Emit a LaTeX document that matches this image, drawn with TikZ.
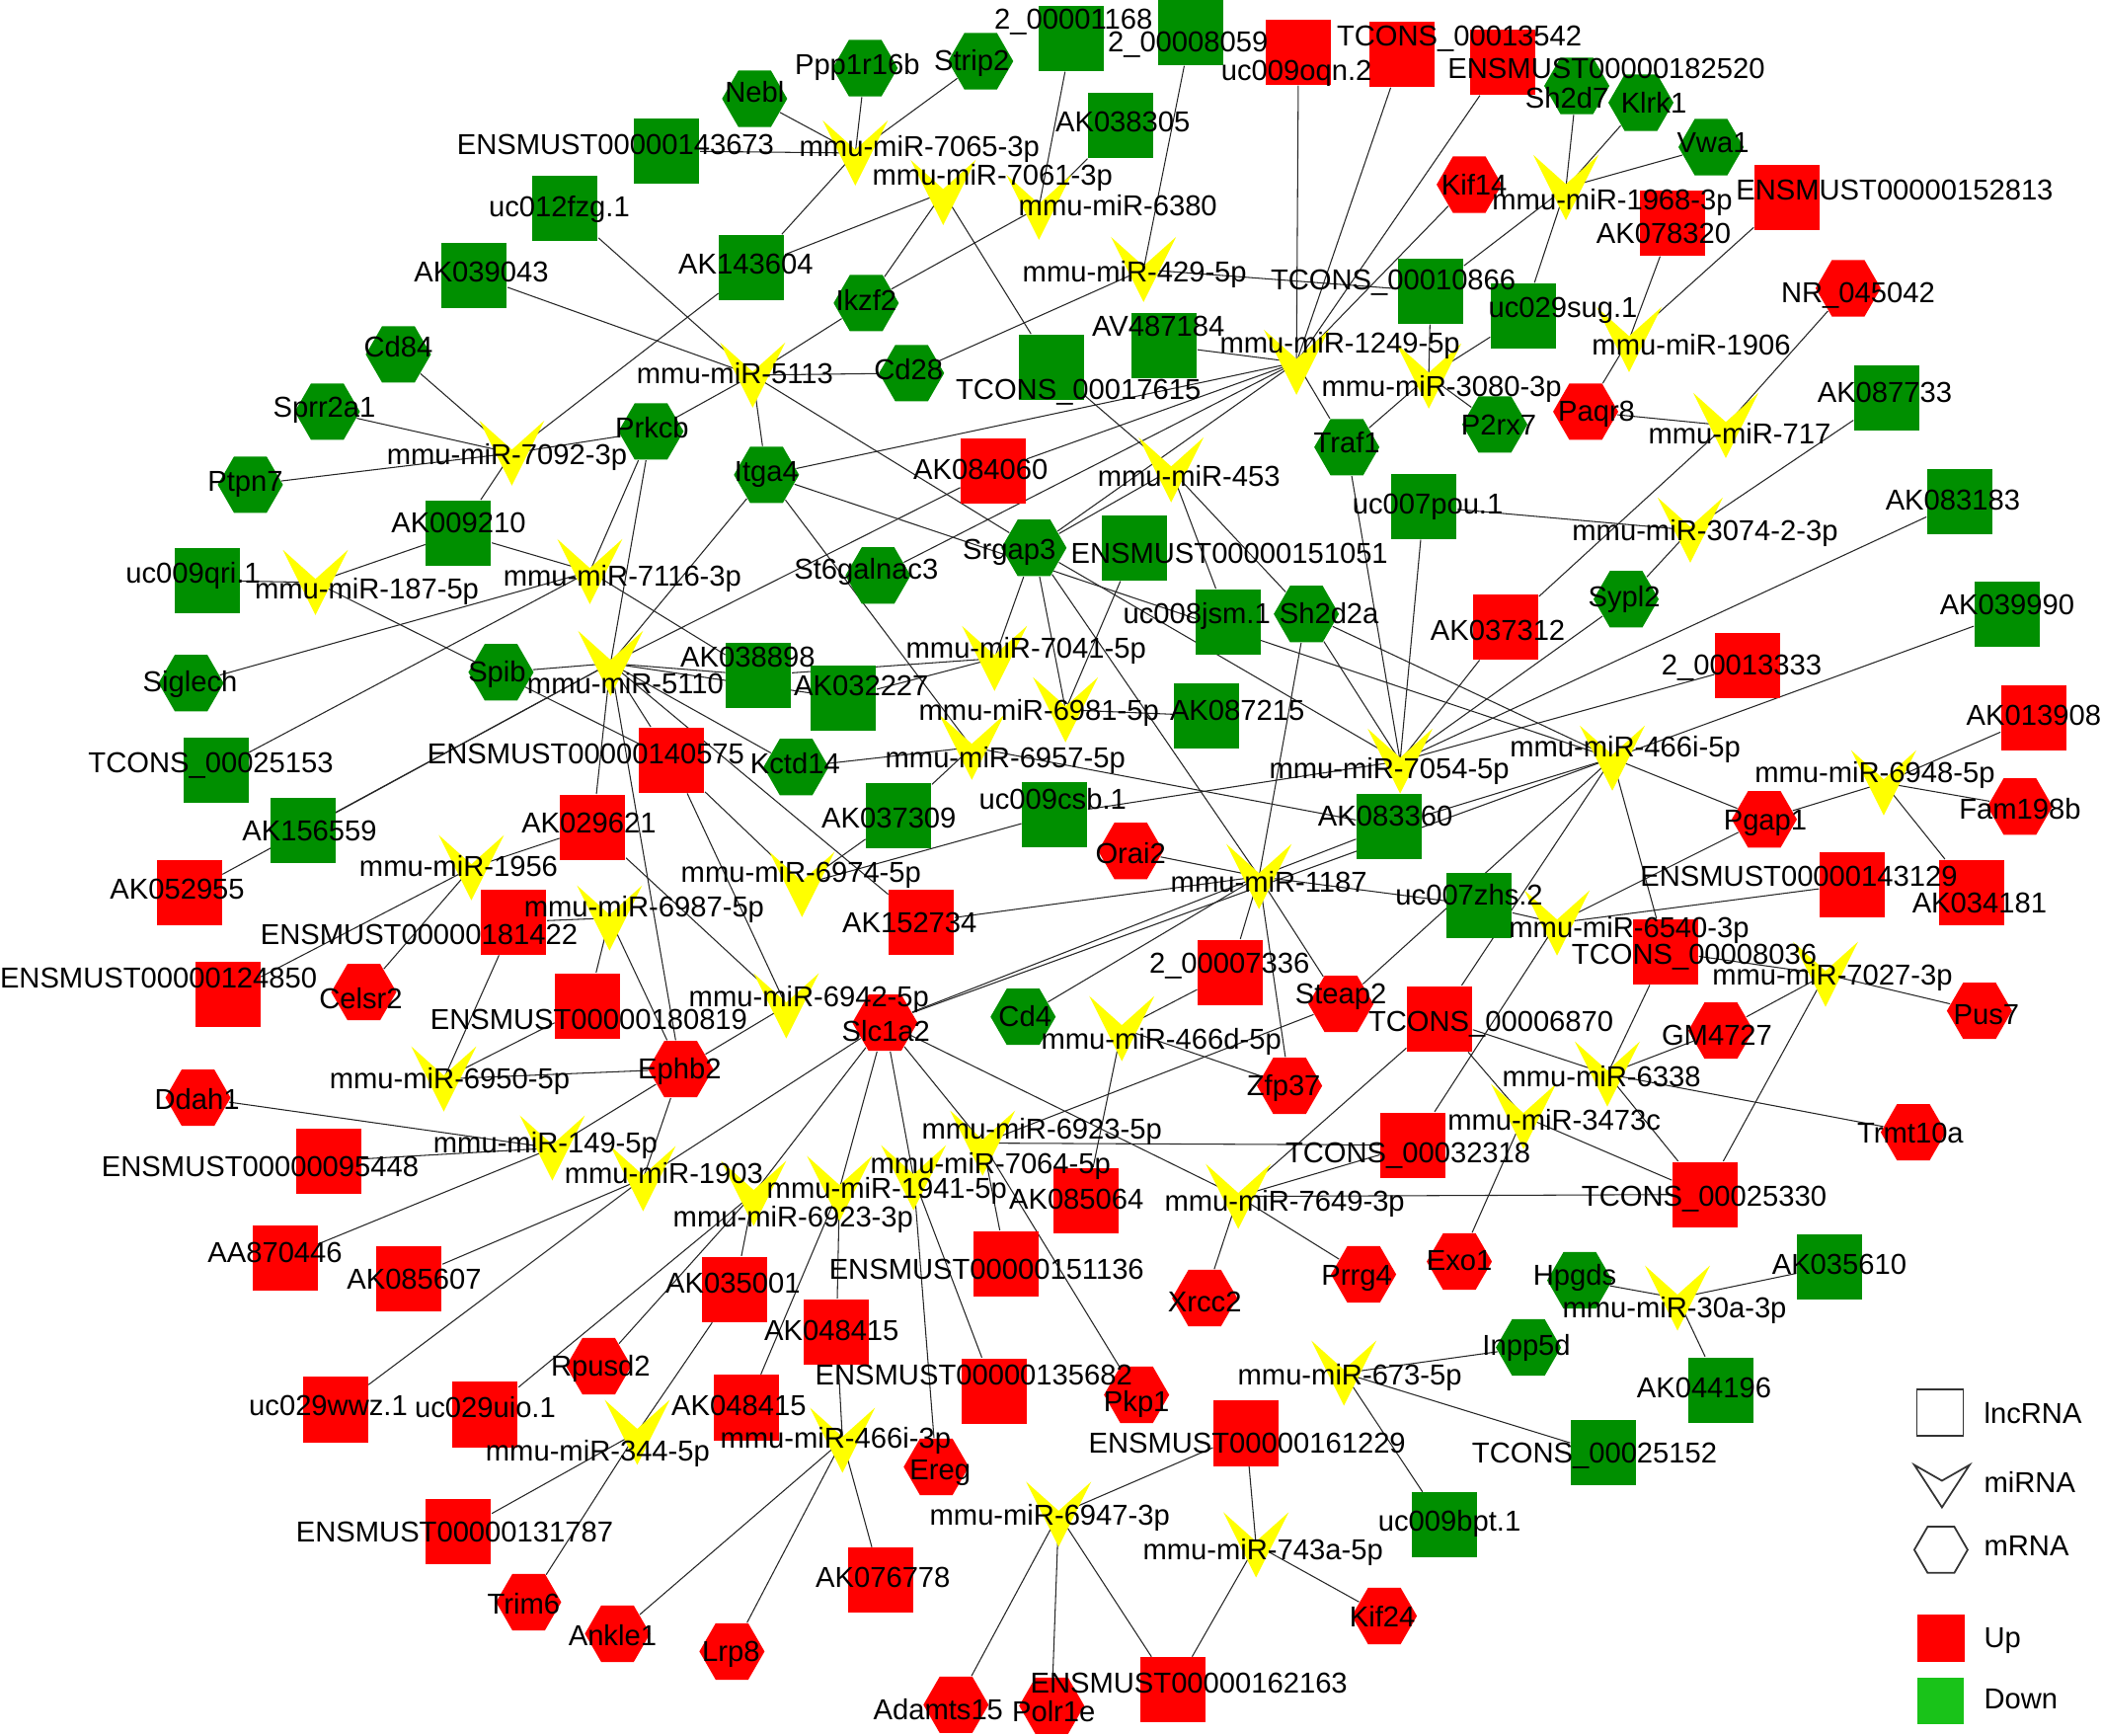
\documentclass[tikz,border=0pt]{standalone}
\usepackage{fontspec}
\setmainfont{Liberation Sans}
\usetikzlibrary{shapes.geometric}
\definecolor{upred}{HTML}{FF0000}
\definecolor{downgreen}{HTML}{008F00}
\definecolor{legendgreen}{HTML}{19C319}
\definecolor{mirfill}{HTML}{FFFF00}
\pgfdeclarelayer{bg}
\pgfdeclarelayer{edges}
\pgfdeclarelayer{labels}
\pgfsetlayers{bg,edges,main,labels}

\tikzset{
  lnc/.style={rectangle, draw=none, minimum size=0.66cm, inner sep=0pt},
  mrna/.style={regular polygon, regular polygon sides=6, draw=none, minimum size=0.66cm, inner sep=0pt},
  lbl/.style={inner sep=0pt, anchor=base, yshift=-0.1cm, font=\fontsize{8.3}{9}\selectfont},
  link/.style={draw=black!85, line width=0.3pt},
  legline/.style={draw=black!80, line width=0.5pt}
}

% lncRNA: name, colour, position, label position, text
\newcommand{\lncnode}[5]{%
  \node[lnc, fill=#2] (#1) at (#3) {};
  \begin{pgfonlayer}{labels}\node[lbl] (#1-t) at (#4) {#5};\end{pgfonlayer}}
% mRNA: name, colour, position, label position, text
\newcommand{\mrnanode}[5]{%
  \node[mrna, fill=#2] (#1) at (#3) {};
  \begin{pgfonlayer}{labels}\node[lbl] (#1-t) at (#4) {#5};\end{pgfonlayer}}
% miRNA: name, position, label position, text
\newcommand{\mirnode}[4]{%
  \coordinate (#1) at (#2);
  \fill[mirfill] (#1) ++(-33,-33) -- ++(33,29.5) -- ++(33,-29.5) -- ++(-33,66) -- cycle;
  \begin{pgfonlayer}{labels}\node[lbl] (#1-t) at (#3) {#4};\end{pgfonlayer}}

\begin{document}
\begin{tikzpicture}[x=0.01cm, y=-0.01cm]
\begin{pgfonlayer}{bg}
\path[use as bounding box, fill=white] (0,0) rectangle (2128,1758);
\end{pgfonlayer}

% lncRNA
\lncnode{e143673}{downgreen}{675,153}{623,147}{ENSMUST00000143673}
\lncnode{uc012fzg}{downgreen}{572,211}{566,210}{uc012fzg.1}
\lncnode{AK039043}{downgreen}{480,279}{487,276}{AK039043}
\lncnode{AK009210}{downgreen}{464,540}{464,530}{AK009210}
\lncnode{uc009qri}{downgreen}{209,588}{195,581}{uc009qri.1}
\lncnode{s1168}{downgreen}{1085,39}{1087,19}{2\_00001168}
\lncnode{s8059}{downgreen}{1206,33}{1203,42}{2\_00008059}
\lncnode{uc009oqn}{upred}{1315,53}{1313,71}{uc009oqn.2}
\lncnode{T13542}{upred}{1420,55}{1478,36}{TCONS\_00013542}
\lncnode{e182520}{upred}{1522,63}{1627,69}{ENSMUST00000182520}
\lncnode{AK038305}{downgreen}{1135,127}{1137,124}{AK038305}
\lncnode{e152813}{upred}{1810,200}{1919,193}{ENSMUST00000152813}
\lncnode{AK078320}{upred}{1694,226}{1685,237}{AK078320}
\lncnode{AK143604}{downgreen}{761,271}{755,268}{AK143604}
\lncnode{T10866}{downgreen}{1449,295}{1411,284}{TCONS\_00010866}
\lncnode{uc029sug}{downgreen}{1543,320}{1583,312}{uc029sug.1}
\lncnode{AV487184}{downgreen}{1179,350}{1173,331}{AV487184}
\lncnode{T17615}{downgreen}{1065,372}{1092,395}{TCONS\_00017615}
\lncnode{AK087733}{downgreen}{1911,403}{1909,398}{AK087733}
\lncnode{AK084060}{upred}{1006,477}{993,476}{AK084060}
\lncnode{uc007pou}{downgreen}{1442,513}{1446,511}{uc007pou.1}
\lncnode{AK083183}{downgreen}{1985,508}{1978,507}{AK083183}
\lncnode{e151051}{downgreen}{1149,555}{1245,561}{ENSMUST00000151051}
\lncnode{uc008jsm}{downgreen}{1244,630}{1212,622}{uc008jsm.1}
\lncnode{AK037312}{upred}{1525,635}{1517,639}{AK037312}
\lncnode{AK039990}{downgreen}{2033,622}{2033,613}{AK039990}
\lncnode{AK038898}{downgreen}{768,684}{757,666}{AK038898}
\lncnode{AK032227}{downgreen}{854,707}{872,695}{AK032227}
\lncnode{s13333}{upred}{1770,674}{1764,674}{2\_00013333}
\lncnode{AK013908}{upred}{2060,727}{2060,725}{AK013908}
\lncnode{AK087215}{downgreen}{1222,725}{1253,720}{AK087215}
\lncnode{T25153}{downgreen}{218,780}{213,773}{TCONS\_00025153}
\lncnode{e140575}{upred}{680,770}{593,764}{ENSMUST00000140575}
\lncnode{AK156559}{downgreen}{306,841}{313,842}{AK156559}
\lncnode{AK029621}{upred}{600,838}{596,834}{AK029621}
\lncnode{AK037309}{downgreen}{910,826}{900,829}{AK037309}
\lncnode{uc009csb}{downgreen}{1068,825}{1066,810}{uc009csb.1}
\lncnode{AK083360}{downgreen}{1407,837}{1403,827}{AK083360}
\lncnode{AK052955}{upred}{191,904}{179,901}{AK052955}
\lncnode{AK152734}{upred}{933,934}{921,935}{AK152734}
\lncnode{uc007zhs}{downgreen}{1498,917}{1488,907}{uc007zhs.2}
\lncnode{e143129}{upred}{1876,896}{1822,888}{ENSMUST00000143129}
\lncnode{AK034181}{upred}{1997,904}{2005,915}{AK034181}
\lncnode{e181422}{upred}{520,934}{424,947}{ENSMUST00000181422}
\lncnode{e124850}{upred}{230,1007}{160,991}{ENSMUST00000124850}
\lncnode{e180819}{upred}{595,1019}{596,1033}{ENSMUST00000180819}
\lncnode{s7336}{upred}{1246,985}{1245,976}{2\_00007336}
\lncnode{T8036}{upred}{1687,964}{1716,967}{TCONS\_00008036}
\lncnode{T6870}{upred}{1458,1032}{1510,1035}{TCONS\_00006870}
\lncnode{e095448}{upred}{332,1176}{263,1182}{ENSMUST00000095448}
\lncnode{T32318}{upred}{1431,1160}{1426,1168}{TCONS\_00032318}
\lncnode{T25330}{upred}{1727,1210}{1726,1212}{TCONS\_00025330}
\lncnode{AK085064}{upred}{1100,1216}{1090,1215}{AK085064}
\lncnode{AA870446}{upred}{288,1274}{278,1269}{AA870446}
\lncnode{AK085607}{upred}{414,1295}{419,1296}{AK085607}
\lncnode{AK035001}{upred}{744,1306}{742,1300}{AK035001}
\lncnode{e151136}{upred}{1019,1280}{999,1286}{ENSMUST00000151136}
\lncnode{AK035610}{downgreen}{1853,1283}{1863,1281}{AK035610}
\lncnode{AK048415a}{upred}{847,1349}{842,1348}{AK048415}
\lncnode{AK048415b}{upred}{756,1426}{748,1424}{AK048415}
\lncnode{e135682}{upred}{1007,1409}{986,1393}{ENSMUST00000135682}
\lncnode{AK044196}{downgreen}{1743,1408}{1726,1406}{AK044196}
\lncnode{uc029wwz}{upred}{339,1428}{332,1424}{uc029wwz.1}
\lncnode{uc029uio}{upred}{491,1433}{491,1426}{uc029uio.1}
\lncnode{e161229}{upred}{1262,1452}{1263,1462}{ENSMUST00000161229}
\lncnode{T25152}{downgreen}{1624,1472}{1615,1472}{TCONS\_00025152}
\lncnode{e131787}{upred}{464,1552}{460,1552}{ENSMUST00000131787}
\lncnode{uc009bpt}{downgreen}{1463,1545}{1468,1541}{uc009bpt.1}
\lncnode{AK076778}{upred}{892,1601}{894,1598}{AK076778}
\lncnode{e162163}{upred}{1188,1712}{1204,1705}{ENSMUST00000162163}

% mRNA
\mrnanode{Nebl}{downgreen}{764,100}{764,94}{Nebl}
\mrnanode{Ppp1r16b}{downgreen}{876,69}{868,65}{Ppp1r16b}
\mrnanode{Strip2}{downgreen}{993,62}{984,61}{Strip2}
\mrnanode{Sh2d7}{downgreen}{1597,87}{1587,100}{Sh2d7}
\mrnanode{Klrk1}{downgreen}{1662,104}{1675,105}{Klrk1}
\mrnanode{Vwa1}{downgreen}{1733,149}{1735,145}{Vwa1}
\mrnanode{Kif14}{upred}{1488,187}{1493,188}{Kif14}
\mrnanode{Ikzf2}{downgreen}{877,307}{877,305}{Ikzf2}
\mrnanode{NR045042}{upred}{1872,292}{1882,297}{NR\_045042}
\mrnanode{Cd84}{downgreen}{403,359}{403,352}{Cd84}
\mrnanode{Cd28}{downgreen}{923,378}{920,375}{Cd28}
\mrnanode{Sprr2a1}{downgreen}{331,417}{328,413}{Sprr2a1}
\mrnanode{Prkcb}{downgreen}{659,437}{660,434}{Prkcb}
\mrnanode{P2rx7}{downgreen}{1514,430}{1518,431}{P2rx7}
\mrnanode{Paqr8}{upred}{1606,417}{1617,417}{Paqr8}
\mrnanode{Ptpn7}{downgreen}{253,491}{248,488}{Ptpn7}
\mrnanode{Itga4}{downgreen}{776,481}{776,478}{Itga4}
\mrnanode{Traf1}{downgreen}{1364,453}{1364,449}{Traf1}
\mrnanode{Srgap3}{downgreen}{1047,555}{1022,557}{Srgap3}
\mrnanode{St6galnac3}{downgreen}{889,583}{877,577}{St6galnac3}
\mrnanode{Sh2d2a}{downgreen}{1323,622}{1346,622}{Sh2d2a}
\mrnanode{Sypl2}{downgreen}{1647,607}{1645,605}{Sypl2}
\mrnanode{Siglech}{downgreen}{193,692}{192,691}{Siglech}
\mrnanode{Spib}{downgreen}{507,681}{503,681}{Spib}
\mrnanode{Kctd14}{downgreen}{806,777}{805,774}{Kctd14}
\mrnanode{Fam198b}{upred}{2046,817}{2046,820}{Fam198b}
\mrnanode{Orai2}{upred}{1145,862}{1145,865}{Orai2}
\mrnanode{Pgap1}{upred}{1787,830}{1788,831}{Pgap1}
\mrnanode{Celsr2}{upred}{368,1005}{365,1012}{Celsr2}
\mrnanode{Steap2}{upred}{1358,1017}{1358,1007}{Steap2}
\mrnanode{Cd4}{downgreen}{1036,1030}{1038,1030}{Cd4}
\mrnanode{GM4727}{upred}{1743,1044}{1739,1049}{GM4727}
\mrnanode{Pus7}{upred}{2005,1024}{2012,1028}{Pus7}
\mrnanode{Slc1a2}{upred}{896,1036}{897,1045}{Slc1a2}
\mrnanode{Ephb2}{upred}{689,1083}{688,1083}{Ephb2}
\mrnanode{Zfp37}{upred}{1306,1100}{1300,1100}{Zfp37}
\mrnanode{Ddah1}{upred}{200,1112}{199,1114}{Ddah1}
\mrnanode{Trmt10a}{upred}{1938,1147}{1935,1148}{Trmt10a}
\mrnanode{Xrcc2}{upred}{1220,1315}{1220,1319}{Xrcc2}
\mrnanode{Prrg4}{upred}{1381,1291}{1374,1292}{Prrg4}
\mrnanode{Exo1}{upred}{1478,1278}{1478,1277}{Exo1}
\mrnanode{Hpgds}{downgreen}{1600,1297}{1595,1292}{Hpgds}
\mrnanode{Rpusd2}{upred}{606,1384}{608,1384}{Rpusd2}
\mrnanode{Inpp5d}{downgreen}{1548,1365}{1546,1363}{Inpp5d}
\mrnanode{Pkp1}{upred}{1151,1413}{1151,1420}{Pkp1}
\mrnanode{Ereg}{upred}{948,1486}{952,1489}{Ereg}
\mrnanode{Trim6}{upred}{535,1623}{530,1625}{Trim6}
\mrnanode{Ankle1}{upred}{625,1655}{620,1657}{Ankle1}
\mrnanode{Kif24}{upred}{1402,1637}{1400,1638}{Kif24}
\mrnanode{Lrp8}{upred}{741,1673}{740,1673}{Lrp8}
\mrnanode{Adamts15}{upred}{968,1727}{950,1732}{Adamts15}
\mrnanode{Polr1e}{upred}{1065,1728}{1067,1734}{Polr1e}

% miRNA
\mirnode{m7065}{866,155}{931,149}{mmu-miR-7065-3p}
\mirnode{m7061}{955,195}{1005,178}{mmu-miR-7061-3p}
\mirnode{m6380}{1052,210}{1132,209}{mmu-miR-6380}
\mirnode{m1968}{1586,190}{1633,203}{mmu-miR-1968-3p}
\mirnode{m429}{1158,273}{1149,276}{mmu-miR-429-5p}
\mirnode{m1906}{1650,344}{1713,350}{mmu-miR-1906}
\mirnode{m1249}{1313,367}{1357,348}{mmu-miR-1249-5p}
\mirnode{m3080}{1447,381}{1460,392}{mmu-miR-3080-3p}
\mirnode{m5113}{762,380}{744,379}{mmu-miR-5113}
\mirnode{m7092}{518,459}{513,461}{mmu-miR-7092-3p}
\mirnode{m717}{1748,431}{1762,440}{mmu-miR-717}
\mirnode{m453}{1186,476}{1204,483}{mmu-miR-453}
\mirnode{m3074}{1712,537}{1727,538}{mmu-miR-3074-2-3p}
\mirnode{m187}{319,590}{371,597}{mmu-miR-187-5p}
\mirnode{m7116}{597,579}{630,584}{mmu-miR-7116-3p}
\mirnode{m5110}{618,672}{633,693}{mmu-miR-5110}
\mirnode{m7041}{1007,667}{1039,657}{mmu-miR-7041-5p}
\mirnode{m6981}{1079,719}{1052,720}{mmu-miR-6981-5p}
\mirnode{m466i5}{1633,768}{1646,757}{mmu-miR-466i-5p}
\mirnode{m7054}{1418,771}{1407,779}{mmu-miR-7054-5p}
\mirnode{m6957}{984,757}{1018,768}{mmu-miR-6957-5p}
\mirnode{m6948}{1908,793}{1899,783}{mmu-miR-6948-5p}
\mirnode{m1956}{477,879}{464,878}{mmu-miR-1956}
\mirnode{m6974}{812,896}{811,884}{mmu-miR-6974-5p}
\mirnode{m1187}{1275,888}{1285,894}{mmu-miR-1187}
\mirnode{m6987}{617,930}{652,919}{mmu-miR-6987-5p}
\mirnode{m6540}{1577,935}{1650,940}{mmu-miR-6540-3p}
\mirnode{m7027}{1849,987}{1856,988}{mmu-miR-7027-3p}
\mirnode{m6942}{796,1019}{819,1010}{mmu-miR-6942-5p}
\mirnode{m466d}{1136,1042}{1176,1053}{mmu-miR-466d-5p}
\mirnode{m6950}{449,1093}{455,1093}{mmu-miR-6950-5p}
\mirnode{m6338}{1628,1088}{1622,1091}{mmu-miR-6338}
\mirnode{m3473}{1543,1131}{1574,1135}{mmu-miR-3473c}
\mirnode{m149}{559,1163}{552,1158}{mmu-miR-149-5p}
\mirnode{m6923b}{995,1158}{1055,1144}{mmu-miR-6923-5p}
\mirnode{m1903}{651,1194}{672,1189}{mmu-miR-1903}
\mirnode{m7064}{925,1193}{1003,1179}{mmu-miR-7064-5p}
\mirnode{m1941}{850,1204}{898,1204}{mmu-miR-1941-5p}
\mirnode{m7649}{1254,1212}{1301,1217}{mmu-miR-7649-3p}
\mirnode{m6923a}{763,1209}{803,1233}{mmu-miR-6923-3p}
\mirnode{m30a}{1699,1315}{1696,1325}{mmu-miR-30a-3p}
\mirnode{m673}{1361,1391}{1367,1393}{mmu-miR-673-5p}
\mirnode{m344}{645,1451}{605,1470}{mmu-miR-344-5p}
\mirnode{m466i3}{853,1459}{846,1457}{mmu-miR-466i-3p}
\mirnode{m6947}{1072,1534}{1063,1535}{mmu-miR-6947-3p}
\mirnode{m743}{1272,1565}{1279,1570}{mmu-miR-743a-5p}

% connectors
\begin{pgfonlayer}{edges}
\foreach \a/\b in {m7065/Nebl, m7065/Ppp1r16b, m7065/Strip2, m7065/e143673, m7065/AK143604,
  m7061/AK143604, m7061/Ikzf2, m7061/T17615,
  m6380/s1168, m6380/AK038305, m6380/Ikzf2,
  m429/s8059, m429/Cd28, m429/T10866,
  m1968/Sh2d7, m1968/Klrk1, m1968/Vwa1, m1968/T10866, m1968/uc029sug,
  m1906/AK078320, m1906/e152813, m1906/Paqr8,
  m1249/uc009oqn, m1249/T13542, m1249/e182520, m1249/Kif14, m1249/AV487184, m1249/Traf1,
  m1249/Itga4, m1249/AK084060, m1249/St6galnac3, m1249/Srgap3,
  m3080/T10866, m3080/uc029sug, m3080/P2rx7, m3080/Traf1,
  m5113/uc012fzg, m5113/AK039043, m5113/Ikzf2, m5113/Cd28, m5113/Prkcb, m5113/Itga4, m5113/Srgap3,
  m7092/Cd84, m7092/Sprr2a1, m7092/Ptpn7, m7092/AK009210, m7092/Prkcb, m7092/AK143604,
  m717/NR045042, m717/Paqr8, m717/AK037312,
  m453/T17615, m453/uc008jsm, m453/Sh2d2a, m453/Srgap3,
  m3074/uc007pou, m3074/AK087733, m3074/Sypl2,
  m187/uc009qri, m187/AK009210, m187/e140575,
  m7116/AK009210, m7116/Prkcb, m7116/Siglech, m7116/T25153, m7116/AK038898,
  m5110/Spib, m5110/AK156559, m5110/AK052955, m5110/Prkcb, m5110/Itga4, m5110/AK084060,
  m5110/AK038898, m5110/AK032227, m5110/Kctd14, m5110/AK152734, m5110/e140575,
  m5110/AK029621, m5110/Ephb2,
  m7041/Srgap3, m7041/AK032227, m7041/AK038898,
  m6981/e151051, m6981/Srgap3, m6981/AK087215,
  m466i5/AK039990, m466i5/Pgap1, m466i5/T8036, m466i5/AK083360, m466i5/Steap2, m466i5/T6870,
  m466i5/Sh2d2a, m466i5/Slc1a2, m466i5/Itga4,
  m7054/Sh2d2a, m7054/Traf1, m7054/uc007pou, m7054/AK037312, m7054/AK083183, m7054/s13333,
  m7054/Sypl2, m7054/Srgap3, m7054/uc009csb,
  m6957/Kctd14, m6957/AK037309, m6957/Itga4, m6957/AK083360,
  m6948/AK013908, m6948/Fam198b, m6948/Pgap1, m6948/AK034181,
  m1956/AK029621, m1956/e124850, m1956/Celsr2,
  m6974/e140575, m6974/AK037309, m6974/uc009csb,
  m1187/Sh2d2a, m1187/Orai2, m1187/AK083360, m1187/uc007zhs, m1187/s7336, m1187/Zfp37,
  m1187/Steap2, m1187/AK152734, m1187/Srgap3, m1187/Slc1a2, m1187/Cd4,
  m6987/e181422, m6987/e180819, m6987/Ephb2,
  m6540/e143129, m6540/Pgap1, m6540/T32318, m6540/uc007zhs,
  m7027/T8036, m7027/GM4727, m7027/Pus7, m7027/T25330,
  m6942/e140575, m6942/AK029621, m6942/Ephb2,
  m466d/s7336, m466d/Zfp37, m466d/AK085064,
  m6950/e181422, m6950/e180819, m6950/Ephb2,
  m6338/T8036, m6338/GM4727, m6338/Trmt10a, m6338/T25330, m6338/T6870,
  m3473/Exo1, m3473/T6870, m3473/T25330,
  m149/Ddah1, m149/e095448, m149/AA870446, m149/Ephb2,
  m6923b/e151136, m6923b/Pkp1, m6923b/Steap2, m6923b/Slc1a2, m6923b/T32318,
  m1903/AK085607, m1903/uc029wwz, m1903/Ephb2, m1903/Slc1a2,
  m7064/Slc1a2, m7064/e135682, m7064/Ereg,
  m1941/AK048415a, m1941/AK048415b, m1941/Slc1a2,
  m7649/Slc1a2, m7649/T32318, m7649/Xrcc2, m7649/Prrg4, m7649/T25330, m7649/T6870,
  m6923a/uc029uio, m6923a/Rpusd2, m6923a/AK035001, m6923a/Slc1a2,
  m30a/Hpgds, m30a/AK035610, m30a/AK044196,
  m673/Inpp5d, m673/T25152, m673/uc009bpt,
  m344/e131787, m344/Trim6, m344/AK035001,
  m466i3/AK048415a, m466i3/Ankle1, m466i3/Lrp8, m466i3/AK076778,
  m6947/e161229, m6947/Adamts15, m6947/Polr1e, m6947/e162163,
  m743/e161229, m743/Kif24, m743/e162163}
  \draw[link] (\a) -- (\b);
\end{pgfonlayer}

% legend
\node[lnc, legline, fill=white, minimum size=0.47cm] (leglnc) at (1965,1431) {};
\node[lbl, anchor=base west] (leglnc-t) at (2009,1432) {lncRNA};
\coordinate (legmir) at (1967,1505);
\draw[legline] (1939,1484) -- (1967,1500) -- (1995,1484) -- (1967,1527) -- cycle;
\node[lbl, anchor=base west] (legmir-t) at (2009,1502) {miRNA};
\node[mrna, legline, fill=white, minimum size=0.54cm] (legmrna) at (1966,1570) {};
\node[lbl, anchor=base west] (legmrna-t) at (2009,1566) {mRNA};
\node[lnc, fill=upred, minimum size=0.48cm] (legup) at (1966,1660) {};
\node[lbl, anchor=base west] (legup-t) at (2009,1659) {Up};
\node[lnc, fill=legendgreen, minimum size=0.47cm] (legdown) at (1966,1723) {};
\node[lbl, anchor=base west] (legdown-t) at (2009,1721) {Down};
\end{tikzpicture}
\end{document}
